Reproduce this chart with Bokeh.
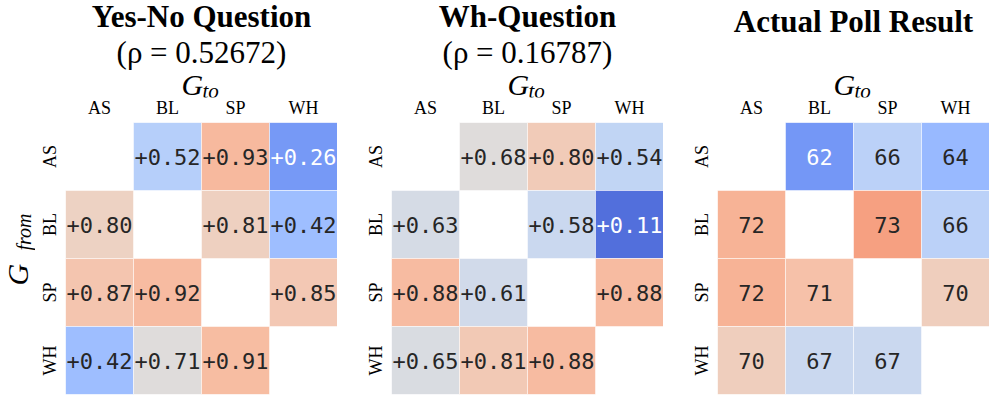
import numpy as np
from bokeh.plotting import figure
from bokeh.models import (ColumnDataSource, FactorRange, Range1d, LinearColorMapper,
                          FixedTicker)
from bokeh.layouts import row, column
from bokeh.embed import file_html
from bokeh.resources import INLINE
from bokeh.core.properties import value
from bokeh.transform import transform

# ---------------- data ----------------
groups = ["AS", "BL", "SP", "WH"]          # G_from (rows) and G_to (columns)

yes_no_vals = [
    [None, 0.52, 0.93, 0.26],
    [0.80, None, 0.81, 0.42],
    [0.87, 0.92, None, 0.85],
    [0.42, 0.71, 0.91, None],
]
wh_vals = [
    [None, 0.68, 0.80, 0.54],
    [0.63, None, 0.58, 0.11],
    [0.88, 0.61, None, 0.88],
    [0.65, 0.81, 0.88, None],
]
poll_vals = [
    [None, 62, 66, 64],
    [72, None, 73, 66],
    [72, 71, None, 70],
    [70, 67, 67, None],
]
rho_yes_no = 0.52672
rho_wh = 0.16787
panel_titles = ["Yes-No Question", "Wh-Question", "Actual Poll Result"]

# ---------------- style ----------------
COOLWARM = [
    (59, 76, 192), (68, 90, 204), (77, 104, 215), (87, 117, 225), (98, 130, 234),
    (108, 142, 241), (119, 154, 247), (130, 165, 251), (141, 176, 254), (152, 185, 255),
    (163, 194, 255), (174, 201, 253), (184, 208, 249), (194, 213, 244), (204, 217, 238),
    (213, 219, 230), (221, 221, 221), (229, 216, 209), (236, 211, 197), (241, 204, 185),
    (245, 196, 173), (247, 187, 160), (247, 177, 148), (247, 166, 135), (244, 154, 123),
    (241, 141, 111), (236, 127, 99), (229, 112, 88), (222, 96, 77), (213, 80, 66),
    (203, 62, 56), (192, 40, 47), (180, 4, 38),
]


def make_palette(n=256):
    anchors = np.array(COOLWARM, dtype=float)
    pos = np.linspace(0, 1, len(anchors))
    t = np.linspace(0, 1, n)
    cols = np.stack([np.interp(t, pos, anchors[:, k]) for k in range(3)], axis=1)
    return [("#%02x%02x%02x" % tuple(int(round(c)) for c in rgb)) for rgb in cols]


PALETTE = make_palette()


def rel_lum(hexcol):
    rgb = [int(hexcol[i:i + 2], 16) / 255 for i in (1, 3, 5)]
    lin = [c / 12.92 if c <= 0.03928 else ((c + 0.055) / 1.055) ** 2.4 for c in rgb]
    return 0.2126 * lin[0] + 0.7152 * lin[1] + 0.0722 * lin[2]


def mapped_color(v, low, high):
    f = (v - low) / (high - low)
    idx = int(np.clip(f, 0, 1) * (len(PALETTE) - 1) + 0.5)
    return PALETTE[idx]


O = 1                 # page origin observed in the screenshot
FRAME = 272
UNIT = FRAME / 4
HEAD_H = 122          # header figure height (window rows 1..123)
HEAD_AXIS = 25        # space under header frame for the column tick labels
BOTTOM = 5
SERIF = "Liberation Serif"
MONO = "DejaVu Sans Mono"
Y_BORDER = 30         # space left of heatmap 1 for its row labels
GF_W = 66 - O - Y_BORDER   # width of the G_from strip


def base_fig(**kw):
    p = figure(toolbar_location=None, tools="", output_backend="svg", **kw)
    p.background_fill_color = "white"
    p.border_fill_color = "white"
    p.outline_line_color = None
    p.grid.visible = False
    return p


def style_axis(ax, standoff):
    ax.axis_line_color = None
    ax.major_tick_line_color = None
    ax.minor_tick_line_color = None
    ax.major_tick_out = 0
    ax.major_tick_in = 0
    ax.major_label_text_font = SERIF
    ax.major_label_text_font_size = "18px"
    ax.major_label_text_color = "black"
    ax.major_label_standoff = standoff


def htext(p, x, y, txt, size, style="normal", align="center", angle=0.0):
    p.text(x=[x], y=[y], text=[txt], angle=angle,
           text_align=align, text_baseline="middle",
           text_font=value(SERIF), text_font_size=size,
           text_font_style=style, text_color="black")


def header(border_left, title_lines, title_mid):
    frame_bottom = O + HEAD_H - HEAD_AXIS
    p = base_fig(x_range=Range1d(0, len(groups)), y_range=Range1d(frame_bottom, O),
                 width=border_left + FRAME, height=HEAD_H,
                 x_axis_location="below", y_axis_location=None,
                 min_border_left=border_left, min_border_right=0,
                 min_border_top=0, min_border_bottom=HEAD_AXIS)
    centers = [i + 0.5 for i in range(len(groups))]
    ax = p.xaxis[0]
    ax.ticker = FixedTicker(ticks=centers, minor_ticks=[])
    ax.major_label_overrides = {c: g for c, g in zip(centers, groups)}
    style_axis(ax, 0)
    for k, (txt, mid) in enumerate(zip(title_lines, title_mid)):
        htext(p, 2.0, mid, txt, "31px", "bold" if k == 0 else "normal")
    htext(p, 2.0 - 20 / UNIT, 85, "G", "30px", "italic", "left")
    htext(p, 2.0 + 1 / UNIT, 91, "to", "21px", "italic", "left")
    return p


def heat(matrix, fmt, low, high, border_left):
    xs, ys, vals, labels, tcols = [], [], [], [], []
    for i, g_from in enumerate(groups):
        for j, g_to in enumerate(groups):
            v = matrix[i][j]
            if v is None:
                continue
            xs.append(g_to)
            ys.append(g_from)
            vals.append(v)
            labels.append(fmt(v))
            tcols.append("#262626" if rel_lum(mapped_color(v, low, high)) > 0.408 else "#ffffff")
    src = ColumnDataSource(dict(x=xs, y=ys, v=vals, label=labels, tc=tcols))

    p = base_fig(x_range=FactorRange(factors=groups),
                 y_range=FactorRange(factors=list(reversed(groups))),
                 frame_width=FRAME, frame_height=FRAME,
                 x_axis_location=None, y_axis_location="left",
                 min_border_left=border_left, min_border_right=0,
                 min_border_top=0, min_border_bottom=BOTTOM)
    mapper = LinearColorMapper(palette=PALETTE, low=low, high=high)
    p.rect(x="x", y="y", width=1, height=1, source=src,
           fill_color=transform("v", mapper), line_color="white", line_alpha=0.5, line_width=1)
    p.text(x="x", y="y", text="label", source=src,
           text_font=value(MONO), text_font_size="22px",
           text_align="center", text_baseline="middle", text_color="tc")
    style_axis(p.yaxis[0], 6)
    p.yaxis[0].major_label_orientation = "vertical"
    return p


def gfrom_strip():
    top = O + HEAD_H
    p = base_fig(x_range=Range1d(O, O + GF_W), y_range=Range1d(top + FRAME, top),
                 width=GF_W, height=FRAME + BOTTOM,
                 x_axis_location=None, y_axis_location=None,
                 min_border_left=0, min_border_right=0,
                 min_border_top=0, min_border_bottom=BOTTOM)
    htext(p, 18, 286, "G", "30px", "italic", "left", np.pi / 2)
    htext(p, 24.5, 251, "from", "20px", "italic", "left", np.pi / 2)
    return p


def mean_of(m):
    return float(np.mean([v for r in m for v in r if v is not None]))


fmt_corr = lambda v: f"{v:+.2f}"
fmt_int = lambda v: f"{int(v)}"

m1, m2, m3 = mean_of(yes_no_vals), mean_of(wh_vals), mean_of(poll_vals)

h1 = header(66 - O, [panel_titles[0], f"(ρ = {rho_yes_no:.5f})"], [17, 52.5])
h2 = header(54, [panel_titles[1], f"(ρ = {rho_wh:.5f})"], [17, 52.5])
h3 = header(54, [panel_titles[2]], [21.5])

gf = gfrom_strip()
p1 = heat(yes_no_vals, fmt_corr, 0.0, 2 * m1, Y_BORDER)
p2 = heat(wh_vals, fmt_corr, 0.0, 2 * m2, 54)
p3 = heat(poll_vals, fmt_int, m3 - 10, m3 + 10, 54)

layout = column(row(h1, h2, h3), row(gf, p1, p2, p3))
open("out.html", "w").write(file_html(layout, INLINE))
